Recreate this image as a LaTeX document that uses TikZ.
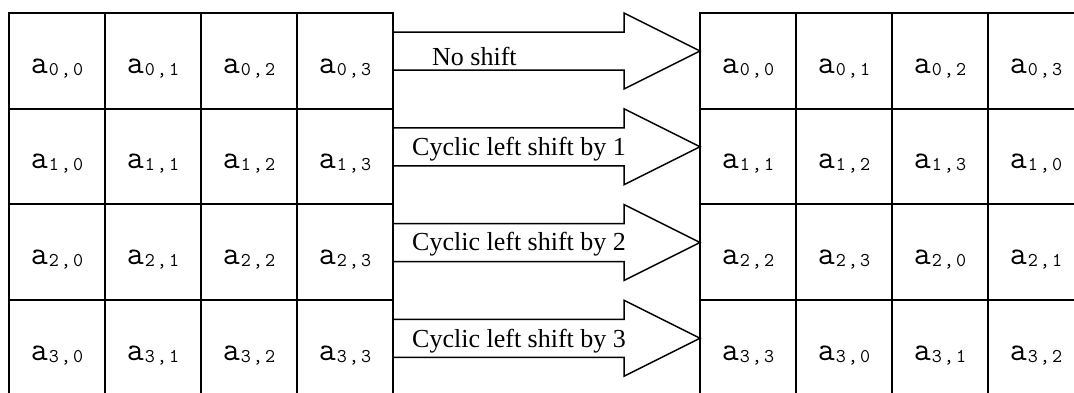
\documentclass[tikz,border=0pt]{standalone}
\usepackage{fontspec}
\setmainfont{Liberation Serif}
\usetikzlibrary{calc}
\newcommand\ent[2]{{\fontsize{33}{33}\selectfont a}{\fontsize{19.5}{19.5}\selectfont\raisebox{-2pt}{\kern1pt#1\kern2pt,\kern2pt#2}}}
\begin{document}
\begin{tikzpicture}[x=1pt,y=-1pt,
  cell/.style={draw,line width=1.8pt,minimum width=96pt,minimum height=95.75pt,
    inner sep=0pt,outer sep=0pt,text height=24.5pt,text depth=0pt,font=\ttfamily},
  blockarrow/.style={draw,line width=1.5pt,line join=miter},
  lbl/.style={anchor=base west,inner sep=0pt,font=\fontsize{26}{26}\selectfont}]
\useasboundingbox (0,0) rectangle (1074,392);
\clip (0,0) rectangle (1074,392);
\foreach \r in {0,...,3}{
  \foreach \c in {0,...,3}{
    \pgfmathtruncatemacro\s{mod(\c+\r,4)}
    \node[cell] (L\r\c) at ({57+96*\c},{60.75+95.75*\r}) {\ent{\r}{\c}};
    \node[cell] (R\r\c) at ({748+96*\c},{60.75+95.75*\r}) {\ent{\r}{\s}};
  }
  \coordinate (s\r) at ($(L\r3.east)+(0,-9.75)$);
  \coordinate (t\r) at ($(R\r0.west)+(0,-9.75)$);
  \draw[blockarrow] (s\r) ++(0,-19) -- ++(231,0) -- ++(0,-19) -- (t\r)
     -- ++(-76,38) -- ++(0,-19) -- ++(-231,0);
}
\node[lbl] (n0) at (432,65) {No shift};
\node[lbl] (n1) at (412,155) {Cyclic left shift by 1};
\node[lbl] (n2) at (412,250) {Cyclic left shift by 2};
\node[lbl] (n3) at (412,347) {Cyclic left shift by 3};
\end{tikzpicture}
\end{document}
